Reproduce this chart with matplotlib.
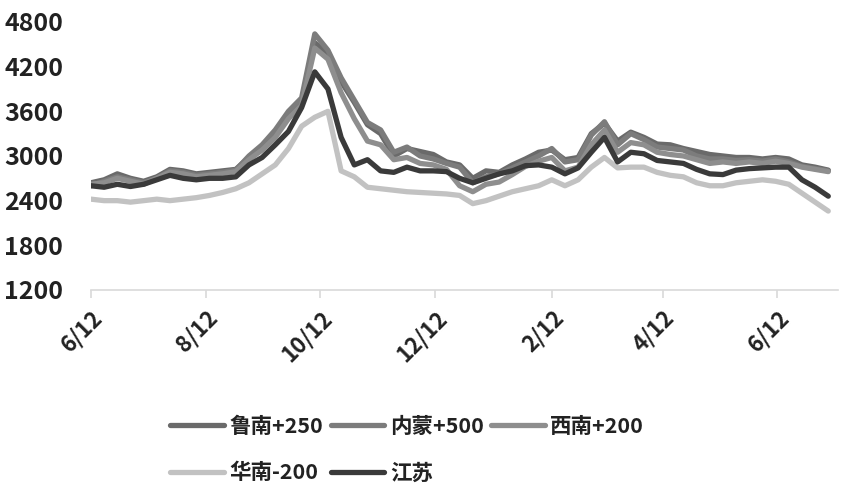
# Regional price spreads, weekly readings from Jun 12 to Jul of the next year
import matplotlib
matplotlib.use('Agg')
import matplotlib.pyplot as plt
import pandas as pd

plt.rcParams['font.family'] = ['Noto Sans CJK SC', 'DejaVu Sans']

dates = pd.date_range('2021-06-12', periods=57, freq='7D')

lunan = [2640, 2680, 2760, 2700, 2660, 2720, 2820, 2800, 2760, 2780,
         2800, 2820, 2980, 3120, 3300, 3560, 3720, 4520, 4380, 4000,
         3720, 3420, 3300, 3000, 3100, 3060, 3020, 2920, 2880, 2700,
         2800, 2780, 2880, 2960, 3050, 3080, 2950, 2980, 3300, 3440,
         3200, 3320, 3250, 3160, 3150, 3100, 3060, 3020, 3000, 2980,
         2980, 2960, 2980, 2960, 2880, 2850, 2810]
neimeng = [2600, 2660, 2720, 2680, 2640, 2700, 2800, 2780, 2740, 2760,
           2780, 2810, 3000, 3150, 3350, 3600, 3780, 4640, 4420, 4050,
           3750, 3450, 3350, 3050, 3120, 3000, 2960, 2900, 2850, 2640,
           2720, 2760, 2840, 2920, 3000, 3100, 2920, 2950, 3280, 3460,
           3150, 3300, 3220, 3120, 3100, 3080, 3000, 2960, 2960, 2940,
           2950, 2930, 2960, 2920, 2860, 2830, 2800]
xinan = [2620, 2640, 2700, 2660, 2620, 2700, 2780, 2760, 2720, 2740,
         2760, 2790, 2950, 3080, 3250, 3500, 3680, 4450, 4300, 3850,
         3500, 3200, 3150, 2950, 2980, 2900, 2880, 2820, 2600, 2520,
         2620, 2650, 2750, 2860, 2930, 2980, 2800, 2850, 3150, 3350,
         3050, 3180, 3150, 3050, 3020, 3000, 2950, 2900, 2920, 2900,
         2920, 2900, 2930, 2900, 2850, 2820, 2790]
huanan = [2420, 2400, 2400, 2380, 2400, 2420, 2400, 2420, 2440, 2470,
          2510, 2560, 2640, 2760, 2880, 3100, 3400, 3520, 3600, 2800,
          2720, 2580, 2560, 2540, 2520, 2510, 2500, 2490, 2470, 2360,
          2400, 2460, 2520, 2560, 2600, 2680, 2600, 2680, 2850, 2980,
          2840, 2850, 2850, 2780, 2740, 2720, 2640, 2600, 2600, 2640,
          2660, 2680, 2660, 2620, 2500, 2380, 2260]
jiangsu = [2600, 2580, 2620, 2590, 2620, 2680, 2740, 2700, 2680, 2700,
           2700, 2720, 2880, 2980, 3150, 3330, 3650, 4130, 3900, 3250,
           2880, 2950, 2800, 2780, 2850, 2800, 2800, 2790, 2700, 2640,
           2700, 2760, 2800, 2870, 2880, 2850, 2760, 2840, 3050, 3250,
           2920, 3050, 3030, 2940, 2920, 2900, 2820, 2760, 2750, 2810,
           2830, 2840, 2850, 2850, 2680, 2580, 2460]

series = [
    ('鲁南+250', lunan, '#6a6a6a'),
    ('内蒙+500', neimeng, '#7c7c7c'),
    ('西南+200', xinan, '#8e8e8e'),
    ('华南-200', huanan, '#c2c2c2'),
    ('江苏', jiangsu, '#3a3a3a'),
]

tick_dates = pd.to_datetime(['2021-06-12', '2021-08-12', '2021-10-12', '2021-12-12',
                             '2022-02-12', '2022-04-12', '2022-06-12'])
tick_labels = ['6/12', '8/12', '10/12', '12/12', '2/12', '4/12', '6/12']

fig = plt.figure(figsize=(8.47, 4.94), dpi=100)
ax = fig.add_axes([0.1074, 0.413, 0.8816, 0.5425])

lines = {}
for name, vals, color in series:
    ln, = ax.plot(dates, vals, color=color, lw=3.8, label=name, solid_capstyle='round')
    lines[name] = ln

ax.set_ylim(1200, 4800)
ax.set_yticks(range(1200, 4801, 600))
ax.set_xlim(dates[0], dates[-1] + pd.Timedelta(days=5))
ax.set_xticks(tick_dates)
ax.set_xticklabels(tick_labels, rotation=45, ha='right', rotation_mode='anchor')

for lab in ax.get_yticklabels():
    lab.set_fontweight('bold')
    lab.set_fontsize(18)
for lab in ax.get_xticklabels():
    lab.set_fontweight('bold')
    lab.set_fontsize(16)

for s in ['top', 'right', 'left']:
    ax.spines[s].set_visible(False)
ax.spines['bottom'].set_color('#d9d9d9')
ax.spines['bottom'].set_linewidth(1.2)
ax.tick_params(axis='x', colors='#d9d9d9', length=6, width=1.2, pad=6, labelcolor='#222222')
ax.tick_params(axis='y', length=0, pad=20, labelcolor='#222222')

# row-major order for a 3-column legend
order = ['鲁南+250', '华南-200', '内蒙+500', '江苏', '西南+200']
leg = fig.legend([lines[n] for n in order], order, ncol=3, frameon=False,
                 loc='upper left', bbox_to_anchor=(0.178, 0.198),
                 prop={'weight': 'bold', 'size': 15.5}, handlelength=2.5,
                 handletextpad=0.25, columnspacing=0.35, labelspacing=1.2)
for t in leg.get_texts():
    t.set_color('#222222')

fig.savefig('out.png', dpi=100)
